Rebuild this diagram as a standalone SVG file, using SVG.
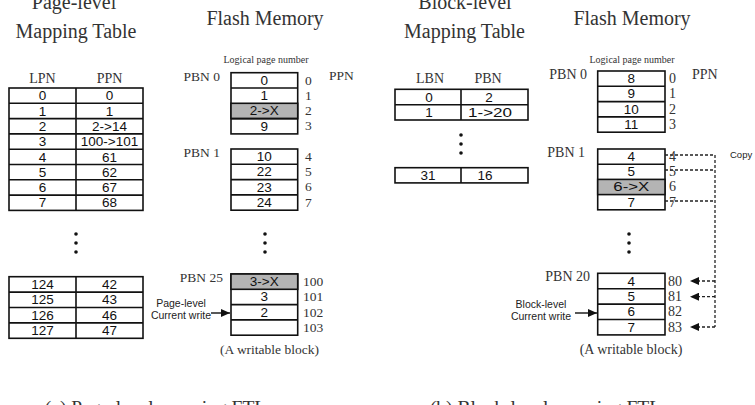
<svg xmlns="http://www.w3.org/2000/svg" width="755" height="405" viewBox="0 0 755 405">
<defs>
<marker id="ah" markerUnits="userSpaceOnUse" markerWidth="9" markerHeight="8" refX="9" refY="4" orient="auto">
<path d="M0,0 L9,4 L0,8 z" fill="#111"/>
</marker>
<style>
.t{font-family:"Liberation Serif","Times New Roman",serif;font-size:20px;fill:#333;text-anchor:middle}
.cap{font-family:"Liberation Serif","Times New Roman",serif;font-size:19.5px;fill:#333;text-anchor:middle}
.h{font-family:"Liberation Serif","Times New Roman",serif;font-size:14px;fill:#333;text-anchor:middle}
.s{font-family:"Liberation Serif","Times New Roman",serif;font-size:13.5px;fill:#333}
.e{text-anchor:end}
.m{text-anchor:middle}
.lp{font-family:"Liberation Serif","Times New Roman",serif;font-size:10px;fill:#333;text-anchor:middle}
.c{font-family:"Liberation Sans",Arial,sans-serif;font-size:13.5px;fill:#111;text-anchor:middle}
.sm{font-family:"Liberation Sans",Arial,sans-serif;font-size:10.5px;fill:#222;text-anchor:middle}
.box{fill:#fff;stroke:#111;stroke-width:1.6}
.g{fill:#b4b4b4;stroke:#111;stroke-width:1.6}
.ln{stroke:#111;stroke-width:1.6;fill:none}
.dash{stroke:#222;stroke-width:1.3;fill:none;stroke-dasharray:3 2}
.arr{stroke:#111;stroke-width:1.4;fill:none}
.dot{fill:#111}
</style>
</defs>

<!-- (a) Page-level mapping table -->
<g id="page-table">
<text class="t" x="74" y="9">Page-level</text>
<text class="t" x="76" y="38">Mapping Table</text>
<text class="h" x="42.5" y="83">LPN</text>
<text class="h" x="109.5" y="83">PPN</text>
<rect class="box" x="9" y="88" width="134" height="122.4"/>
<path class="ln" d="M76,88V210.4 M9,103.3H143 M9,118.6H143 M9,133.9H143 M9,149.2H143 M9,164.5H143 M9,179.8H143 M9,195.1H143"/>
<text class="c" x="42.5" y="100.3">0</text><text class="c" x="109.5" y="100.3">0</text>
<text class="c" x="42.5" y="115.6">1</text><text class="c" x="109.5" y="115.6">1</text>
<text class="c" x="42.5" y="130.9">2</text><text class="c" x="109.5" y="130.9">2-&gt;14</text>
<text class="c" x="42.5" y="146.2">3</text><text class="c" x="109.5" y="146.2">100-&gt;101</text>
<text class="c" x="42.5" y="161.5">4</text><text class="c" x="109.5" y="161.5">61</text>
<text class="c" x="42.5" y="176.8">5</text><text class="c" x="109.5" y="176.8">62</text>
<text class="c" x="42.5" y="192.1">6</text><text class="c" x="109.5" y="192.1">67</text>
<text class="c" x="42.5" y="207.4">7</text><text class="c" x="109.5" y="207.4">68</text>
<circle class="dot" cx="76" cy="234" r="1.8"/><circle class="dot" cx="76" cy="243" r="1.8"/><circle class="dot" cx="76" cy="252" r="1.8"/>
<rect class="box" x="9" y="276.7" width="134" height="61.6"/>
<path class="ln" d="M76,276.7V338.3 M9,292.1H143 M9,307.5H143 M9,322.9H143"/>
<text class="c" x="42.5" y="289">124</text><text class="c" x="109.5" y="289">42</text>
<text class="c" x="42.5" y="304.4">125</text><text class="c" x="109.5" y="304.4">43</text>
<text class="c" x="42.5" y="319.8">126</text><text class="c" x="109.5" y="319.8">46</text>
<text class="c" x="42.5" y="335.2">127</text><text class="c" x="109.5" y="335.2">47</text>
</g>

<!-- (a) Flash memory -->
<g id="flash-a">
<text class="t" x="265" y="25">Flash Memory</text>
<text class="lp" x="266" y="63">Logical page number</text>
<text class="s" x="329" y="80">PPN</text>
<text class="s e" x="220" y="81">PBN 0</text>
<rect class="box" x="231" y="72.7" width="66.7" height="61.2"/>
<rect class="g" x="231" y="103.3" width="66.7" height="15.3"/>
<path class="ln" d="M231,88H297.7 M231,118.6H297.7"/>
<text class="c" x="264.3" y="84.7">0</text>
<text class="c" x="264.3" y="100">1</text>
<text class="c" x="264.3" y="115.3">2-&gt;X</text>
<text class="c" x="264.3" y="130.6">9</text>
<text class="s" x="305" y="84.5">0</text><text class="s" x="305" y="99.8">1</text><text class="s" x="305" y="115.1">2</text><text class="s" x="305" y="130.4">3</text>

<text class="s e" x="220" y="157">PBN 1</text>
<rect class="box" x="231" y="149" width="66.7" height="61.2"/>
<path class="ln" d="M231,164.3H297.7 M231,179.6H297.7 M231,194.9H297.7"/>
<text class="c" x="264.3" y="161">10</text>
<text class="c" x="264.3" y="176.3">22</text>
<text class="c" x="264.3" y="191.6">23</text>
<text class="c" x="264.3" y="206.9">24</text>
<text class="s" x="305" y="160.8">4</text><text class="s" x="305" y="176.1">5</text><text class="s" x="305" y="191.4">6</text><text class="s" x="305" y="206.7">7</text>

<circle class="dot" cx="265" cy="234" r="1.8"/><circle class="dot" cx="265" cy="243" r="1.8"/><circle class="dot" cx="265" cy="252" r="1.8"/>

<text class="s e" x="223" y="282">PBN 25</text>
<rect class="box" x="231" y="274" width="66.7" height="61.2"/>
<rect class="g" x="231" y="274" width="66.7" height="15.3"/>
<path class="ln" d="M231,304.6H297.7 M231,319.9H297.7"/>
<text class="c" x="264.3" y="286">3-&gt;X</text>
<text class="c" x="264.3" y="301.3">3</text>
<text class="c" x="264.3" y="316.6">2</text>
<text class="s" x="303" y="286">100</text><text class="s" x="303" y="301.3">101</text><text class="s" x="303" y="316.6">102</text><text class="s" x="303" y="331.9">103</text>

<text class="sm" x="181" y="307">Page-level</text>
<text class="sm" x="181" y="319">Current write</text>
<text class="s m" x="269.5" y="354">(A writable block)</text>
</g>

<!-- (b) Block-level mapping table -->
<g id="block-table">
<text class="t" x="465" y="9">Block-level</text>
<text class="t" x="464.5" y="38">Mapping Table</text>
<text class="h" x="430" y="83">LBN</text>
<text class="h" x="488" y="83">PBN</text>
<rect class="box" x="395" y="89.3" width="133" height="30.7"/>
<path class="ln" d="M461,89.3V120 M395,104.7H528"/>
<text class="c" x="429" y="101.5">0</text><text class="c" x="489" y="101.5">2</text>
<text class="c" x="429" y="116.9">1</text><text class="c" x="490" y="116.9" textLength="44" lengthAdjust="spacingAndGlyphs">1-&gt;20</text>
<circle class="dot" cx="461" cy="135" r="1.8"/><circle class="dot" cx="461" cy="144" r="1.8"/><circle class="dot" cx="461" cy="153" r="1.8"/>
<rect class="box" x="395" y="167.7" width="133" height="15.2"/>
<path class="ln" d="M461,167.7V182.9"/>
<text class="c" x="428" y="179.9">31</text><text class="c" x="485" y="179.9">16</text>
</g>

<!-- (b) Flash memory -->
<g id="flash-b">
<text class="t" x="632" y="25">Flash Memory</text>
<text class="lp" x="632" y="63">Logical page number</text>
<text class="h" x="692" y="79" style="text-anchor:start">PPN</text>
<text class="h e" x="587" y="79">PBN 0</text>
<rect class="box" x="597.7" y="71" width="67.3" height="61.2"/>
<path class="ln" d="M597.7,86.3H665 M597.7,101.6H665 M597.7,116.9H665"/>
<text class="c" x="631.3" y="83">8</text>
<text class="c" x="631.3" y="98.3">9</text>
<text class="c" x="631.3" y="113.6">10</text>
<text class="c" x="631.3" y="128.9">11</text>
<text class="h" x="669" y="83" style="text-anchor:start">0</text><text class="h" x="669" y="98.3" style="text-anchor:start">1</text><text class="h" x="669" y="113.6" style="text-anchor:start">2</text><text class="h" x="669" y="128.9" style="text-anchor:start">3</text>

<text class="h e" x="585" y="157">PBN 1</text>
<rect class="box" x="597.7" y="149" width="67.3" height="60.8"/>
<rect class="g" x="597.7" y="179.4" width="67.3" height="15.2"/>
<path class="ln" d="M597.7,164.2H665"/>
<text class="c" x="631.3" y="161">4</text>
<text class="c" x="631.3" y="176.2">5</text>
<text class="c" x="631.3" y="191.4" textLength="36" lengthAdjust="spacingAndGlyphs">6-&gt;X</text>
<text class="c" x="631.3" y="206.6">7</text>
<text class="h" x="669" y="161" style="text-anchor:start">4</text><text class="h" x="669" y="176.2" style="text-anchor:start">5</text><text class="h" x="669" y="191.4" style="text-anchor:start">6</text><text class="h" x="669" y="206.6" style="text-anchor:start">7</text>

<circle class="dot" cx="629" cy="234" r="1.8"/><circle class="dot" cx="629" cy="243" r="1.8"/><circle class="dot" cx="629" cy="252" r="1.8"/>

<text class="h e" x="590" y="281">PBN 20</text>
<rect class="box" x="597.7" y="273.3" width="67.3" height="61.6"/>
<path class="ln" d="M597.7,288.7H665 M597.7,304.1H665 M597.7,319.5H665"/>
<text class="c" x="631.3" y="285.5">4</text>
<text class="c" x="631.3" y="300.9">5</text>
<text class="c" x="631.3" y="316.3">6</text>
<text class="c" x="631.3" y="331.7">7</text>
<text class="h" x="668" y="285.5" style="text-anchor:start">80</text><text class="h" x="668" y="300.9" style="text-anchor:start">81</text><text class="h" x="668" y="316.3" style="text-anchor:start">82</text><text class="h" x="668" y="331.7" style="text-anchor:start">83</text>

<text class="sm" x="730" y="158" style="text-anchor:start;font-size:9.5px">Copy</text>
<text class="sm" x="541" y="308">Block-level</text>
<text class="sm" x="541" y="320">Current write</text>
<text class="h" x="631" y="354">(A writable block)</text>
</g>

<!-- connectors -->
<g id="connectors">
<path class="arr" d="M211,313H230" marker-end="url(#ah)"/>
<path class="arr" d="M575,313H597" marker-end="url(#ah)"/>
<path class="dash" d="M665,155H715 M665,170H715 M665,201H715 M715,155V327"/>
<path class="dash" d="M715,281H690" marker-end="url(#ah)"/>
<path class="dash" d="M715,296.7H690" marker-end="url(#ah)"/>
<path class="dash" d="M715,327H690" marker-end="url(#ah)"/>
</g>

<text class="cap" x="155.5" y="414">(a) Page-level mapping FTL</text>
<text class="cap" x="545.5" y="414">(b) Block-level mapping FTL</text>
</svg>
